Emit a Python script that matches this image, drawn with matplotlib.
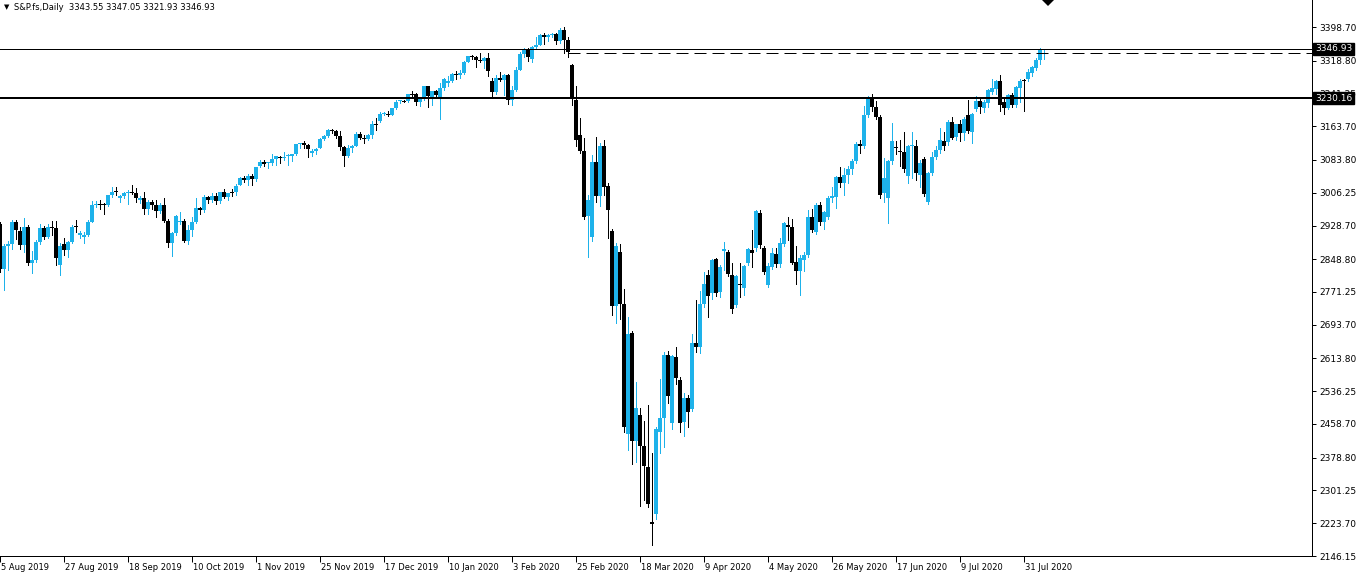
import matplotlib
matplotlib.use("Agg")
import matplotlib.pyplot as plt
import matplotlib.transforms as mtransforms
from matplotlib.patches import Polygon
import numpy as np
import pandas as pd

# trading days on the chart (no candles on 25 Dec, 1 Jan and Good Friday)
dates = pd.bdate_range("2019-08-05", "2020-08-07")
dates = dates[~dates.isin(pd.to_datetime(["2019-12-25", "2020-01-01", "2020-04-10"]))]

# daily OHLC, one line per month
opens = [
    2932, 2826, 2880, 2884, 2937, 2915, 2882, 2925, 2841, 2848, 2889, 2923, 2901, 2925, 2922, 2835, 2886, 2870, 2889, 2928,
    2906, 2902, 2907, 2938, 2977, 2980, 2979, 2978, 3000, 3010, 2993, 2999, 3006, 3007, 3006, 2990, 2993, 2967, 2985, 2978, 2962,
    2977, 2940, 2888, 2911, 2936, 2939, 2893, 2919, 2938, 2970, 2966, 2996, 2990, 2998, 2986, 3007, 2996, 3010, 3008, 3025, 3040, 3037, 3047,
    3038, 3070, 3079, 3075, 3077, 3085, 3091, 3088, 3092, 3094, 3097, 3121, 3123, 3120, 3101, 3105, 3113, 3134, 3141, 3154, 3153,
    3141, 3114, 3094, 3113, 3117, 3146, 3136, 3133, 3142, 3169, 3175, 3192, 3193, 3191, 3206, 3222, 3224, 3223, 3240, 3240, 3221,
    3231, 3258, 3230, 3246, 3234, 3254, 3266, 3272, 3288, 3284, 3290, 3317, 3329, 3328, 3321, 3318, 3326, 3270, 3244, 3277, 3273, 3284,
    3226, 3249, 3298, 3335, 3346, 3322, 3352, 3357, 3380, 3374, 3380, 3382, 3365, 3392, 3369, 3308, 3226, 3143, 3105, 2951,
    2902, 3080, 2998, 3118, 3022, 2915, 2738, 2866, 2742, 2435, 2673, 2419, 2480, 2407, 2357, 2226, 2246, 2440, 2474, 2622, 2460, 2617,
    2563, 2464, 2520, 2494, 2650, 2642, 2742, 2812, 2768, 2849, 2772, 2868, 2865, 2811, 2740, 2792, 2780, 2841, 2871, 2875, 2959,
    2876, 2788, 2830, 2861, 2837, 2885, 2930, 2926, 2843, 2822, 2847, 2859, 2950, 2914, 2977, 2938, 2950, 2993, 2997, 3043, 3030,
    3048, 3062, 3081, 3121, 3117, 3190, 3234, 3210, 3186, 3005, 2995, 3082, 3116, 3104, 3103, 3045, 3117, 3117, 3048, 3085, 2985, 3052,
    3090, 3107, 3129, 3127, 3174, 3138, 3170, 3148, 3190, 3150, 3205, 3224, 3208, 3218, 3245, 3252, 3271, 3222, 3208, 3237, 3215, 3254, 3273,
    3275, 3290, 3302, 3321, 3343.55,
]
highs = [
    2937, 2886, 2892, 2942, 2942, 2926, 2946, 2930, 2868, 2894, 2933, 2928, 2932, 2940, 2939, 2887, 2898, 2892, 2930, 2942,
    2916, 2914, 2942, 2986, 2986, 2990, 2981, 3002, 3020, 3020, 3002, 3008, 3012, 3024, 3018, 2999, 3008, 2990, 2989, 2988, 2983,
    2993, 2944, 2913, 2954, 2960, 2945, 2930, 2948, 2993, 2973, 3000, 2998, 3005, 3005, 3008, 3015, 3006, 3016, 3027, 3044, 3047, 3050, 3050,
    3068, 3083, 3084, 3080, 3098, 3094, 3093, 3102, 3098, 3099, 3121, 3125, 3128, 3121, 3111, 3113, 3136, 3143, 3157, 3158, 3156,
    3152, 3116, 3120, 3120, 3150, 3149, 3143, 3145, 3177, 3184, 3198, 3198, 3199, 3206, 3226, 3227, 3226, 3240, 3248, 3243, 3232,
    3260, 3260, 3248, 3250, 3267, 3278, 3283, 3289, 3295, 3298, 3318, 3331, 3332, 3330, 3337, 3327, 3338, 3278, 3285, 3293, 3287, 3288,
    3260, 3305, 3340, 3348, 3349, 3354, 3375, 3382, 3385, 3383, 3385, 3384, 3397, 3398, 3376, 3312, 3260, 3183, 3137, 3000,
    3095, 3139, 3125, 3130, 3030, 2920, 2888, 2885, 2778, 2713, 2680, 2559, 2496, 2466, 2504, 2389, 2452, 2565, 2630, 2632, 2622, 2640,
    2570, 2531, 2527, 2671, 2752, 2774, 2818, 2823, 2850, 2852, 2835, 2889, 2870, 2839, 2812, 2840, 2836, 2875, 2918, 2966, 2965,
    2880, 2840, 2875, 2875, 2898, 2938, 2950, 2945, 2880, 2858, 2865, 2965, 2968, 2982, 2985, 2964, 2998, 3021, 3045, 3068, 3065,
    3070, 3085, 3126, 3130, 3212, 3236, 3240, 3223, 3190, 3088, 3084, 3172, 3128, 3130, 3150, 3119, 3150, 3131, 3084, 3090, 3055, 3103,
    3117, 3159, 3149, 3178, 3185, 3170, 3178, 3186, 3227, 3196, 3236, 3228, 3225, 3252, 3275, 3274, 3285, 3230, 3240, 3242, 3260, 3275, 3276,
    3300, 3306, 3326, 3348, 3347.05,
]
lows = [
    2818, 2776, 2823, 2872, 2897, 2872, 2866, 2836, 2817, 2842, 2886, 2897, 2899, 2906, 2834, 2811, 2860, 2853, 2887, 2914,
    2898, 2887, 2905, 2936, 2972, 2967, 2957, 2974, 2996, 3001, 2985, 2993, 2980, 3004, 2985, 2983, 2955, 2956, 2968, 2950, 2959,
    2938, 2878, 2856, 2906, 2932, 2890, 2885, 2905, 2935, 2955, 2960, 2982, 2985, 2980, 2982, 2994, 2988, 2998, 3002, 3024, 3032, 3025, 3024,
    3034, 3068, 3070, 3064, 3073, 3073, 3077, 3083, 3072, 3082, 3096, 3112, 3112, 3091, 3094, 3099, 3112, 3130, 3139, 3148, 3137,
    3108, 3070, 3090, 3103, 3116, 3133, 3125, 3130, 3137, 3155, 3173, 3190, 3188, 3190, 3204, 3218, 3220, 3222, 3234, 3214, 3212,
    3226, 3210, 3213, 3232, 3181, 3250, 3258, 3268, 3276, 3278, 3288, 3315, 3324, 3303, 3316, 3302, 3282, 3234, 3240, 3270, 3238, 3217,
    3215, 3247, 3296, 3328, 3318, 3315, 3350, 3355, 3358, 3366, 3376, 3358, 3362, 3338, 3328, 3215, 3118, 3100, 2945, 2854,
    2893, 2985, 2975, 3000, 2900, 2717, 2698, 2707, 2440, 2397, 2364, 2369, 2265, 2279, 2263, 2172, 2234, 2391, 2405, 2509, 2448, 2553,
    2440, 2430, 2452, 2490, 2628, 2626, 2735, 2713, 2755, 2762, 2760, 2823, 2810, 2721, 2735, 2760, 2765, 2835, 2831, 2868, 2875,
    2815, 2782, 2825, 2830, 2830, 2880, 2894, 2838, 2790, 2764, 2820, 2855, 2914, 2908, 2930, 2920, 2945, 2985, 2970, 3020, 3000,
    3030, 3050, 3076, 3100, 3112, 3185, 3200, 3180, 2995, 2985, 2935, 3074, 3099, 3070, 3056, 3030, 3040, 3036, 3021, 2998, 2980, 3048,
    3085, 3100, 3107, 3120, 3133, 3130, 3128, 3130, 3148, 3123, 3200, 3196, 3198, 3210, 3240, 3240, 3200, 3192, 3205, 3210, 3210, 3220, 3200,
    3272, 3283, 3298, 3312, 3321.93,
]
closes = [
    2826, 2880, 2884, 2937, 2917, 2882, 2925, 2841, 2848, 2889, 2923, 2901, 2925, 2922, 2852, 2880, 2870, 2889, 2926, 2927,
    2912, 2907, 2938, 2977, 2980, 2979, 2978, 3000, 3009, 3007, 2999, 3006, 3007, 3006, 2993, 2993, 2967, 2985, 2978, 2962, 2977,
    2940, 2888, 2911, 2952, 2939, 2893, 2919, 2938, 2970, 2966, 2996, 2990, 2998, 2986, 3007, 2996, 3005, 3008, 3023, 3040, 3037, 3047, 3038,
    3067, 3079, 3075, 3077, 3085, 3093, 3088, 3092, 3094, 3097, 3121, 3123, 3120, 3109, 3105, 3111, 3134, 3141, 3154, 3153, 3141,
    3114, 3094, 3113, 3117, 3146, 3136, 3133, 3142, 3169, 3169, 3192, 3193, 3191, 3206, 3221, 3224, 3223, 3240, 3240, 3221, 3231,
    3258, 3235, 3246, 3237, 3254, 3275, 3272, 3288, 3284, 3290, 3317, 3329, 3328, 3321, 3318, 3326, 3295, 3244, 3277, 3273, 3284, 3226,
    3249, 3298, 3335, 3346, 3328, 3352, 3357, 3380, 3374, 3380, 3382, 3365, 3392, 3369, 3340, 3228, 3130, 3105, 2950, 2990,
    3080, 2998, 3118, 3020, 2966, 2738, 2880, 2743, 2451, 2672, 2419, 2496, 2407, 2359, 2270, 2223, 2448, 2472, 2622, 2525, 2619, 2567,
    2462, 2520, 2488, 2651, 2641, 2742, 2790, 2762, 2847, 2768, 2831, 2872, 2815, 2732, 2808, 2790, 2833, 2872, 2863, 2963, 2883,
    2819, 2833, 2864, 2837, 2888, 2935, 2926, 2841, 2822, 2851, 2859, 2950, 2918, 2977, 2938, 2961, 2993, 2999, 3043, 3030, 3048,
    3062, 3081, 3121, 3117, 3190, 3234, 3210, 3186, 3001, 3040, 3082, 3128, 3114, 3103, 3062, 3116, 3118, 3052, 3077, 3003, 3052, 3091,
    3107, 3131, 3117, 3174, 3136, 3168, 3148, 3182, 3152, 3192, 3224, 3210, 3220, 3250, 3254, 3270, 3214, 3208, 3237, 3215, 3256, 3270, 3272,
    3293, 3303, 3321, 3346, 3346.93,
]

price_ticks = [3398.70, 3318.80, 3241.25, 3163.70, 3083.80, 3006.25, 2928.70, 2848.80, 2771.25,
               2693.70, 2613.80, 2536.25, 2458.70, 2378.80, 2301.25, 2223.70, 2146.15]
support_level = 3230.16
bid_price = 3346.93
ray_level = 3338.0
ray_start = "2020-02-21"
title_text = "S&P.fs,Daily  3343.55 3347.05 3321.93 3346.93"

BULL = "#1eb2ea"
BEAR = "#000000"
W, H = 1358, 577
PX = 72 / 100  # one pixel in points

plt.rcParams["font.family"] = ["DejaVu Sans"]
plt.rcParams["lines.scale_dashes"] = False

fig = plt.figure(figsize=(W / 100, H / 100), dpi=100)
ax = fig.add_axes([0, 21 / H, 1312 / W, 556 / H])

o = np.array(opens, dtype=float)
hi = np.array(highs, dtype=float)
lo = np.array(lows, dtype=float)
c = np.array(closes, dtype=float)
x = np.arange(len(c))
up = c > o
cols = np.where(up, BULL, BEAR)

ymin, ymax = 2146.15, 2146.15 + 556 * 2.3678
min_h = (ymax - ymin) / 556  # one pixel of price

ax.vlines(x, lo, hi, colors=cols, linewidth=PX, antialiased=False, zorder=2)
body_lo = np.minimum(o, c)
body_h = np.abs(c - o)
flat = body_h < min_h
body_lo = np.where(flat, c - min_h / 2, body_lo)
body_h = np.where(flat, min_h, body_h)
ax.bar(x, body_h, bottom=body_lo, width=0.8, color=cols, linewidth=0, antialiased=False, zorder=3)

# horizontal levels
ax.axhline(support_level, color="black", linewidth=2 * PX, zorder=4)
ax.axhline(bid_price, color="black", linewidth=PX, zorder=4)
start_idx = int(np.where(dates == pd.Timestamp(ray_start))[0][0])
ax.hlines(ray_level, start_idx, 400, colors="black", linewidth=PX,
          linestyles=(0, (12 * PX, 6 * PX)), zorder=4)

ax.set_xlim(0, 1312 / 4)
ax.set_ylim(ymin, ymax)

for s in ["top", "left"]:
    ax.spines[s].set_visible(False)
for s in ["right", "bottom"]:
    ax.spines[s].set_linewidth(PX)

# price scale
ax.yaxis.tick_right()
ax.set_yticks(price_ticks)
ax.set_yticklabels([f"{p:.2f}" for p in price_ticks])
ax.tick_params(axis="y", length=3, width=PX, pad=2, labelsize=6.5)

# date scale, one label every 16 bars
tick_idx = list(range(0, len(dates), 16))
ax.set_xticks(tick_idx)
ax.set_xticklabels([f"{dates[i].day} {dates[i].strftime('%b %Y')}" for i in tick_idx])
ax.tick_params(axis="x", length=4, width=PX, pad=1, labelsize=6)
shift = mtransforms.ScaledTranslation(1 / 100, 0, fig.dpi_scale_trans)
for lab in ax.get_xticklabels():
    lab.set_horizontalalignment("left")
    lab.set_transform(lab.get_transform() + shift)

# price boxes on the scale
trans = mtransforms.blended_transform_factory(ax.transAxes, ax.transData)
for level in [bid_price, support_level]:
    ax.text(1.0 + 3 / 1312, level, f"{level:.2f}", transform=trans, ha="left", va="center",
            color="white", fontsize=6.5, zorder=10, clip_on=False,
            bbox=dict(boxstyle="square,pad=0.2", fc="black", ec="black"))

# header and chart shift marker
fig.text(4 / W, 1 - 7 / H, "\u25bc", fontsize=5, va="center", ha="left")
fig.text(14 / W, 1 - 7 / H, title_text, fontsize=6, va="center", ha="left")
fig.patches.append(Polygon([(1042 / W, 1.0), (1054 / W, 1.0), (1048 / W, 1 - 6 / H)],
                           closed=True, fc="black", ec="none", transform=fig.transFigure))

fig.savefig("out.png", dpi=100)
